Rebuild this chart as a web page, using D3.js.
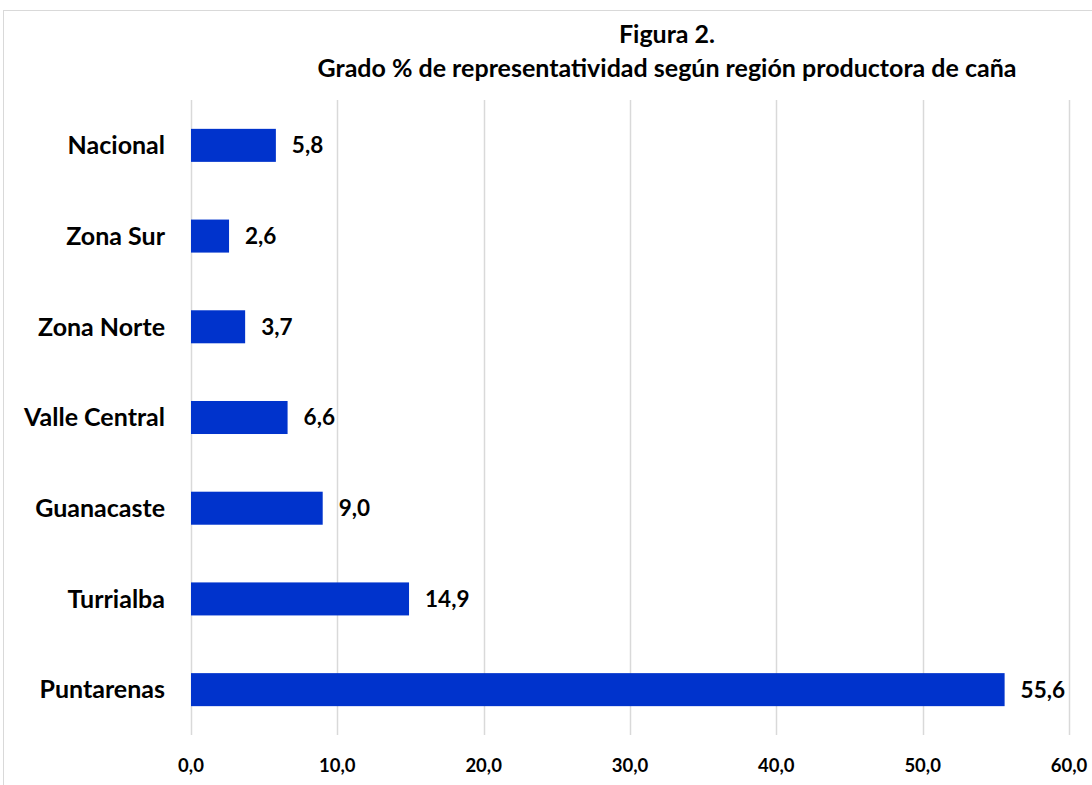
<!DOCTYPE html>
<html>
<head>
<meta charset="utf-8">
<script src="https://cdn.jsdelivr.net/npm/d3@7"></script>
<style>
  html, body { margin: 0; padding: 0; background: #fff; }
  svg { display: block; font-family: Lato, 'Open Sans', sans-serif; }
</style>
</head>
<body>
<div id="chart"></div>
<script>
const regions = ['Nacional', 'Zona Sur', 'Zona Norte', 'Valle Central', 'Guanacaste', 'Turrialba', 'Puntarenas'];
const values = [5.8, 2.6, 3.7, 6.6, 9.0, 14.9, 55.6];
const ticks = [0, 10, 20, 30, 40, 50, 60];
const titleLines = ['Figura 2.', 'Grado % de representatividad según región productora de caña'];

const width = 1092;
const height = 785;
const fmt = v => v.toFixed(1).replace('.', ',');

const svg = d3.select('#chart')
  .append('svg')
  .attr('width', width)
  .attr('height', height);

// frame of the chart area
svg.append('rect')
  .attr('x', 3.5)
  .attr('y', 10.5)
  .attr('width', width + 10)
  .attr('height', height + 10)
  .attr('fill', 'none')
  .attr('stroke', '#d9d9d9')
  .attr('stroke-width', 1);

const x = d3.scaleLinear().domain([0, 60]).range([191, 1069]);
const y = d3.scaleBand().domain(regions).range([100, 735]).paddingInner(0.636).paddingOuter(0.318);

// gridlines
svg.append('g')
  .selectAll('line')
  .data(ticks)
  .join('line')
  .attr('x1', d => Math.round(x(d)) + 0.5)
  .attr('x2', d => Math.round(x(d)) + 0.5)
  .attr('y1', 100)
  .attr('y2', 735)
  .attr('stroke', '#d9d9d9')
  .attr('stroke-width', 1.5);

// tick labels
svg.append('g')
  .selectAll('text')
  .data(ticks)
  .join('text')
  .attr('x', d => x(d))
  .attr('y', 772)
  .attr('text-anchor', 'middle')
  .attr('font-size', '18.5px')
  .attr('font-weight', 'bold')
  .attr('fill', '#000')
  .text(d => fmt(d));

// bars
svg.append('g')
  .selectAll('rect')
  .data(regions)
  .join('rect')
  .attr('x', x(0))
  .attr('y', d => y(d))
  .attr('width', (d, i) => x(values[i]) - x(0))
  .attr('height', y.bandwidth())
  .attr('fill', '#0033cc');

// value labels
svg.append('g')
  .selectAll('text')
  .data(regions)
  .join('text')
  .attr('x', (d, i) => x(values[i]) + 16)
  .attr('y', d => y(d) + y.bandwidth() / 2)
  .attr('dy', '0.35em')
  .attr('font-size', '22.5px')
  .attr('font-weight', 'bold')
  .attr('fill', '#000')
  .text((d, i) => fmt(values[i]));

// category labels
svg.append('g')
  .selectAll('text')
  .data(regions)
  .join('text')
  .attr('x', 165)
  .attr('y', d => y(d) + y.bandwidth() / 2)
  .attr('dy', '0.35em')
  .attr('text-anchor', 'end')
  .attr('font-size', '25px')
  .attr('font-weight', 'bold')
  .attr('fill', '#000')
  .text(d => d);

// title
svg.append('g')
  .selectAll('text')
  .data(titleLines)
  .join('text')
  .attr('x', 667)
  .attr('y', (d, i) => 43 + i * 34)
  .attr('text-anchor', 'middle')
  .attr('font-size', '25px')
  .attr('font-weight', 'bold')
  .attr('fill', '#000')
  .text(d => d);
</script>
</body>
</html>
